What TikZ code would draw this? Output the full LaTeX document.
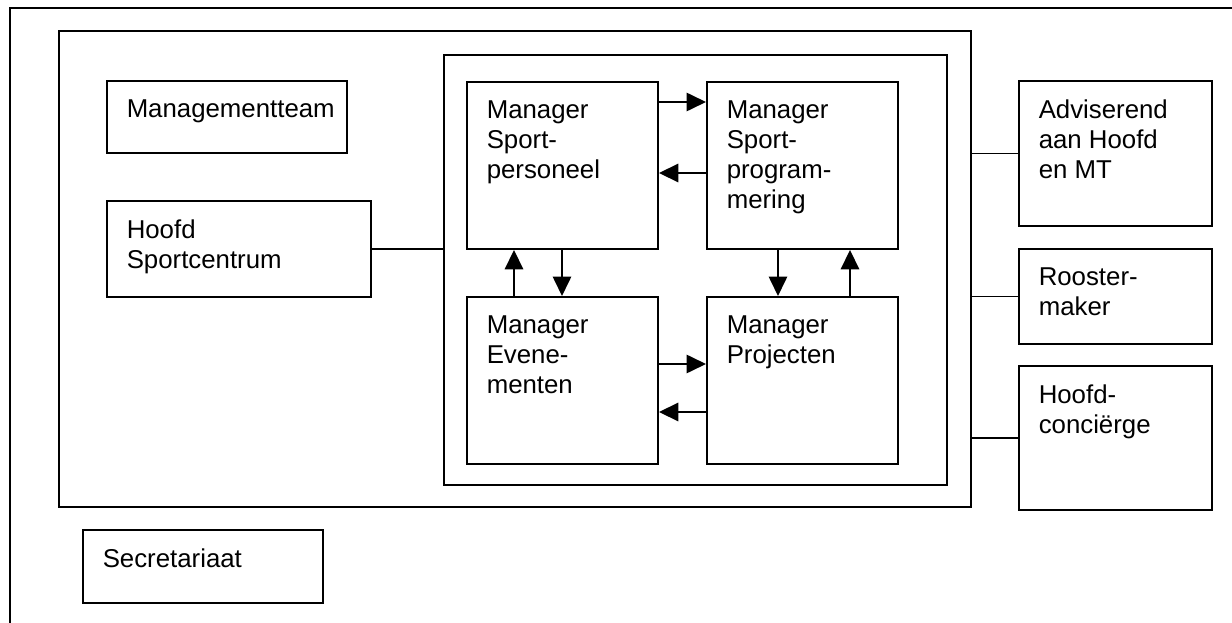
\documentclass[tikz,border=0pt]{standalone}
\usepackage{fontspec}
\setmainfont{Liberation Sans}
\usetikzlibrary{arrows.meta}
\def\u{0.465pt}

\begin{document}
\begin{tikzpicture}[x=0.465pt, y=-0.465pt, line width=0.9pt,
>={Triangle[length=9pt,width=8.5pt]},
box/.style={draw, anchor=north west, inner sep=0pt},
txt/.style={anchor=north west, align=left, inner xsep=9.2pt, inner ysep=8.6pt,
  font=\fontsize{12pt}{13.95pt}\selectfont}]
\useasboundingbox (0,0) rectangle (1232,623);
% frames
\draw (10,623) -- (10,8) -- (1232,8);
\node[box, minimum width=912*\u, minimum height=476*\u] (mid) at (58,30) {};
\node[box, minimum width=503*\u, minimum height=430*\u] (team) at (443,54) {};
% left column
\node[box, minimum width=240*\u, minimum height=72*\u, label={[txt]north west:Managementteam}] (mt) at (106,80) {};
\node[box, minimum width=264*\u, minimum height=96*\u, label={[txt]north west:Hoofd\\Sportcentrum}] (hoofd) at (106,200) {};
\node[box, minimum width=240*\u, minimum height=73*\u, label={[txt]north west:Secretariaat}] (secr) at (82,529) {};
% managers
\node[box, minimum width=191*\u, minimum height=167*\u, label={[txt]north west:Manager\\Sport-\\personeel}] (msp) at (466,81) {};
\node[box, minimum width=191*\u, minimum height=167*\u, label={[txt]north west:Manager\\Sport-\\program-\\mering}] (mprog) at (706,81) {};
\node[box, minimum width=191*\u, minimum height=167*\u, label={[txt]north west:Manager\\Evene-\\menten}] (mev) at (466,296) {};
\node[box, minimum width=191*\u, minimum height=167*\u, label={[txt]north west:Manager\\Projecten}] (mproj) at (706,296) {};
% right column
\node[box, minimum width=193*\u, minimum height=145*\u, label={[txt]north west:Adviserend\\aan Hoofd\\en MT}] (adv) at (1018,80) {};
\node[box, minimum width=193*\u, minimum height=95*\u, label={[txt]north west:Rooster-\\maker}] (roost) at (1018,248) {};
\node[box, minimum width=193*\u, minimum height=144*\u, label={[txt]north west:Hoofd-\\conciërge}] (conc) at (1018,365) {};
% lines
\draw (hoofd.east) -- (hoofd.east -| team.west);
\draw (adv.west -| mid.east) -- (adv.west);
\draw (roost.west -| mid.east) -- (roost.west);
\draw (conc.west -| mid.east) -- (conc.west);
% arrows between managers
\draw[->] (msp.east |- 0,102) -- (mprog.west |- 0,102);
\draw[->] (mprog.west |- 0,173) -- (msp.east |- 0,173);
\draw[->] (mev.north -| 514,0) -- (msp.south -| 514,0);
\draw[->] (msp.south -| 562,0) -- (mev.north -| 562,0);
\draw[->] (mprog.south -| 778,0) -- (mproj.north -| 778,0);
\draw[->] (mproj.north -| 850,0) -- (mprog.south -| 850,0);
\draw[->] (mev.east |- 0,364) -- (mproj.west |- 0,364);
\draw[->] (mproj.west |- 0,412) -- (mev.east |- 0,412);
\end{tikzpicture}
\end{document}
